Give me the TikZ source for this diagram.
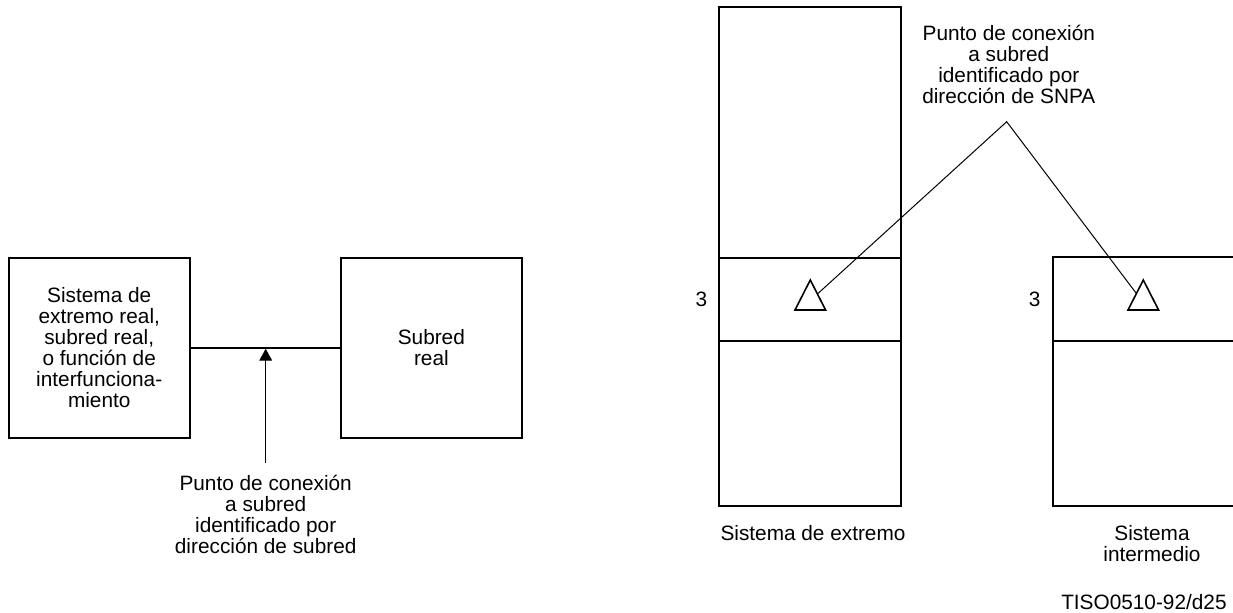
\documentclass[tikz,border=0pt]{standalone}
\usepackage{fontspec}
\setmainfont{Liberation Sans}
\usetikzlibrary{arrows.meta, positioning, calc}

\begin{document}
\begin{tikzpicture}[x=0.5pt, y=-0.5pt, font=\fontsize{10.4}{10.5}\selectfont,
    caja/.style={draw, line width=1pt, inner sep=0pt, outer sep=0pt, align=center,
      minimum width=90.25pt, minimum height=90pt},
    capa/.style={draw, line width=1pt, inner sep=0pt, outer sep=0pt, minimum width=90.7pt},
    texto/.style={inner sep=0pt, align=center},
    guia/.style={line width=0.5pt},
    punto/.style={line width=0.8pt, line join=miter}]
    \useasboundingbox (0,0) rectangle (1233,612);

    \node[caja] (real) at (99.25,347.5) {Sistema de\\extremo real,\\subred real,\\o función de\\interfunciona-\\miento};
    \node[caja] (subred) at (431.35,347.5) {Subred\\real};
    \draw[line width=1pt] (real) -- (subred);

    \node[texto] (pcs) at (265.7,514.4) {Punto de conexión\\a subred\\identificado por\\dirección de subred};
    \draw[guia, -{Triangle[width=6.4pt,length=6pt]}, shorten >=0.6pt] ([yshift=5.7pt]pcs.north) -- (pcs.north |- real.east);

    \node[capa, minimum height=125.1pt] (es7) at (810,132.4) {};
    \node[capa, minimum height=41.6pt, below=0pt of es7] (es3) {};
    \node[capa, minimum height=82.65pt, below=0pt of es3] (es1) {};
    \node[texto, left=5.9pt of es3] (n3es) {3};

    \coordinate (isno) at (1052.7,257.3);
    \coordinate (is3) at (1052.7,299);
    \coordinate (isso) at (1052.7,505.8);
    \draw[line width=1pt] (1233,257.3) -- (isno) -- (isso) -- (1233,505.8);
    \draw[line width=1pt] (1052.7,340.7) -- (1233,340.7);
    \node[texto, left=5.9pt of is3] (n3is) {3};

    \coordinate (tes) at (810.3,295);
    \coordinate (tis) at (1143.3,295);
    \draw[punto] (tes) ++(-15.3,15) -- ++(15.3,-30) -- ++(15.3,30) -- cycle;
    \draw[punto] (tis) ++(-15.3,15) -- ++(15.3,-30) -- ++(15.3,30) -- cycle;

    \node[texto] (snpa) at (1008.8,64.5) {Punto de conexión\\a subred\\identificado por\\dirección de SNPA};
    \coordinate (vg) at (1006.7,121.7);
    \draw[guia] ($(tes)+(7.1,-1)$) -- (vg) -- ($(tis)+(-6.9,-1.5)$);

    \node[texto] (se) at (813,532.7) {Sistema de extremo};
    \node[texto] (si) at (1152,543.7) {Sistema\\intermedio};
    \node[texto, anchor=east] (ref) at (1227,601.7) {TISO0510-92/d25};
\end{tikzpicture}
\end{document}
